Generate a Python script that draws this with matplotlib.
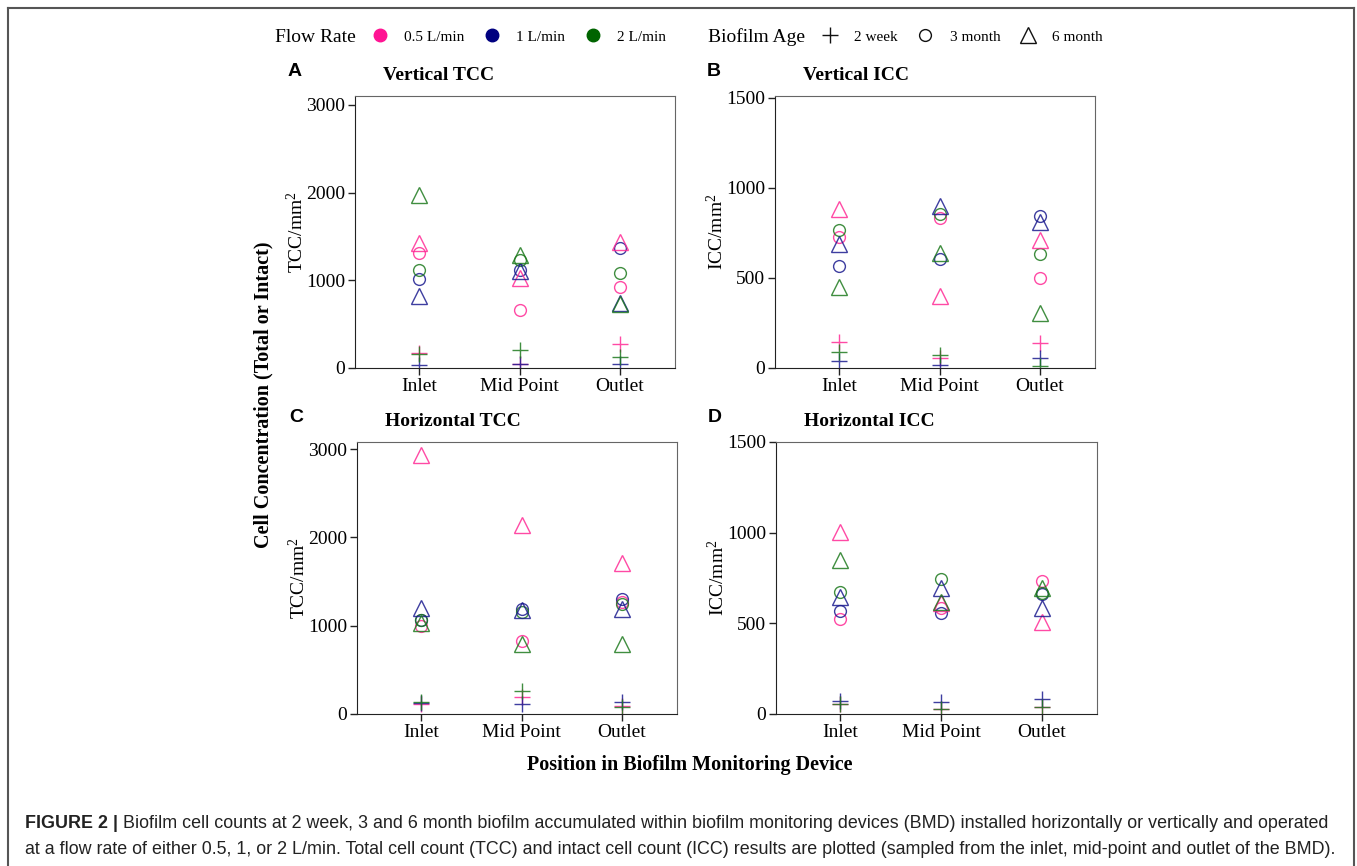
import matplotlib
matplotlib.use('Agg')
import matplotlib.pyplot as plt
from matplotlib.lines import Line2D

# positions along the device
positions = ['Inlet', 'Mid Point', 'Outlet']
flow_labels = ['0.5 L/min', '1 L/min', '2 L/min']
age_labels = ['2 week', '3 month', '6 month']

# rows = flow rate (0.5, 1, 2 L/min), columns = Inlet, Mid Point, Outlet
vert_tcc_2week = [[170, 49, 277], [35, 42, 49], [160, 208, 121]]
vert_tcc_3month = [[1307, 660, 928], [1011, 1120, 1371], [1117, 1230, 1080]]
vert_tcc_6month = [[1424, 1030, 1439], [826, 1100, 740], [1973, 1290, 725]]

vert_icc_2week = [[143, 56, 139], [37, 17, 54], [87, 74, 13]]
vert_icc_3month = [[726, 833, 500], [569, 607, 846], [768, 856, 635]]
vert_icc_6month = [[880, 398, 709], [687, 900, 809], [452, 637, 306]]

hor_tcc_2week = [[111, 191, 92], [130, 115, 141], [141, 263, 76]]
hor_tcc_3month = [[1000, 828, 1267], [1060, 1190, 1305], [1065, 1160, 1240]]
hor_tcc_6month = [[2930, 2140, 1714], [1202, 1180, 1187], [1030, 790, 794]]

hor_icc_2week = [[55, 26, 40], [74, 68, 81], [55, 26, 37]]
hor_icc_3month = [[524, 583, 733], [570, 559, 660], [671, 744, 665]]
hor_icc_6month = [[1005, 614, 505], [647, 697, 586], [849, 618, 695]]

flow_colors = ['#ff2a95', '#1c1c8f', '#1e7a1e']
legend_colors = ['#ff1493', '#000080', '#006400']
age_markers = ['+', 'o', '^']
age_sizes = [11.5, 8.5, 11]

SERIF = 'Liberation Serif'
SANS = 'Liberation Sans'
plt.rcParams['mathtext.fontset'] = 'custom'
plt.rcParams['mathtext.rm'] = SERIF
plt.rcParams['mathtext.it'] = SERIF + ':italic'
plt.rcParams['mathtext.bf'] = SERIF + ':bold'

fig = plt.figure(figsize=(13.57, 8.66), dpi=100)
W, H = 1357.0, 866.0


def px_axes(x0, y0, x1, y1):
    return fig.add_axes([x0 / W, 1 - y1 / H, (x1 - x0) / W, (y1 - y0) / H])


panels = [
    ('A', 'Vertical TCC', r'TCC/mm$^\mathrm{2}$', (355, 96, 675, 368), (0, 3100), [0, 1000, 2000, 3000],
     [vert_tcc_2week, vert_tcc_3month, vert_tcc_6month]),
    ('B', 'Vertical ICC', r'ICC/mm$^\mathrm{2}$', (775, 96, 1095, 368), (0, 1510), [0, 500, 1000, 1500],
     [vert_icc_2week, vert_icc_3month, vert_icc_6month]),
    ('C', 'Horizontal TCC', r'TCC/mm$^\mathrm{2}$', (357, 442, 677, 714), (0, 3080), [0, 1000, 2000, 3000],
     [hor_tcc_2week, hor_tcc_3month, hor_tcc_6month]),
    ('D', 'Horizontal ICC', r'ICC/mm$^\mathrm{2}$', (776, 442, 1097, 714), (0, 1500), [0, 500, 1000, 1500],
     [hor_icc_2week, hor_icc_3month, hor_icc_6month]),
]

xpos = [1, 2, 3]
for letter, title, ylab, box, ylim, yticks, series in panels:
    ax = px_axes(*box)
    for a, data in enumerate(series):
        for f in range(3):
            ax.plot(xpos, data[f], ls='none', marker=age_markers[a], markersize=age_sizes[a],
                    markerfacecolor='none', markeredgecolor=flow_colors[f],
                    markeredgewidth=1.0, alpha=0.85)
    ax.set_xlim(0.36, 3.55)
    ax.set_ylim(*ylim)
    ax.set_yticks(yticks)
    ax.set_xticks(xpos)
    ax.set_xticklabels(positions)
    ax.tick_params(direction='out', length=5, width=1, labelsize=14, color='#222', pad=2)
    for lab in ax.get_xticklabels() + ax.get_yticklabels():
        lab.set_fontfamily(SERIF)
    for s in ['left', 'bottom']:
        ax.spines[s].set_color('#222')
    for s in ['top', 'right']:
        ax.spines[s].set_color('#666')
    ax.set_ylabel(ylab, fontsize=14, family=SERIF)
    ax.yaxis.set_label_coords(-0.15, 0.5)
    ax.text(0.088, 1.074, title, transform=ax.transAxes, ha='left', va='center',
            fontsize=14, family=SERIF, fontweight='bold')
    ax.text(-0.19, 1.09, letter, transform=ax.transAxes, ha='center', va='center',
            fontsize=14, family=SANS, fontweight='bold')

fig.text(263 / W, 1 - 395 / H, 'Cell Concentration (Total or Intact)', rotation=90,
         ha='center', va='center', fontsize=14.5, family=SERIF, fontweight='bold')
fig.text(690 / W, 1 - 765 / H, 'Position in Biofilm Monitoring Device',
         ha='center', va='center', fontsize=14.5, family=SERIF, fontweight='bold')

# legend row
fig.text(275 / W, 1 - 37 / H, 'Flow Rate', ha='left', va='center', fontsize=14, family=SERIF)
fig.text(708 / W, 1 - 37 / H, 'Biofilm Age', ha='left', va='center', fontsize=14, family=SERIF)
flow_handles = [Line2D([], [], ls='none', marker='o', markersize=9, color=c) for c in legend_colors]
age_handles = [Line2D([], [], ls='none', marker=m, markersize=s, markerfacecolor='none',
                      markeredgecolor='#111', markeredgewidth=1.0)
               for m, s in zip(age_markers, age_sizes)]
leg_kw = dict(frameon=False, ncol=3, handlelength=1.0, handletextpad=1.1, columnspacing=1.3,
              borderpad=0, borderaxespad=0, prop={'family': SERIF, 'size': 11}, loc='center left')
fig.legend(flow_handles, flow_labels, bbox_to_anchor=(372 / W, 1 - 37 / H), **leg_kw)
fig.legend(age_handles, age_labels, bbox_to_anchor=(822 / W, 1 - 37 / H), **leg_kw)

# outer frame
for xs, ys in [([8, 8], [866, 8]), ([8, 1354], [8, 8]), ([1354, 1354], [8, 866])]:
    fig.add_artist(Line2D([x / W for x in xs], [1 - y / H for y in ys], color='#555', lw=1.5,
                          transform=fig.transFigure))

# caption
renderer = fig.canvas.get_renderer()
cap_size = 12.9
bold = fig.text(25 / W, 1 - 823 / H, 'FIGURE 2 | ', ha='left', va='center', fontsize=cap_size,
                family=SANS, fontweight='bold', color='#222')
bb = bold.get_window_extent(renderer)
fig.text(bb.x1 / W, 1 - 823 / H,
         'Biofilm cell counts at 2 week, 3 and 6 month biofilm accumulated within biofilm monitoring '
         'devices (BMD) installed horizontally or vertically and operated',
         ha='left', va='center', fontsize=cap_size, family=SANS, color='#222')
fig.text(25 / W, 1 - 849 / H,
         'at a flow rate of either 0.5, 1, or 2 L/min. Total cell count (TCC) and intact cell count (ICC) '
         'results are plotted (sampled from the inlet, mid-point and outlet of the BMD).',
         ha='left', va='center', fontsize=cap_size, family=SANS, color='#222')

fig.savefig('out.png', dpi=100)
